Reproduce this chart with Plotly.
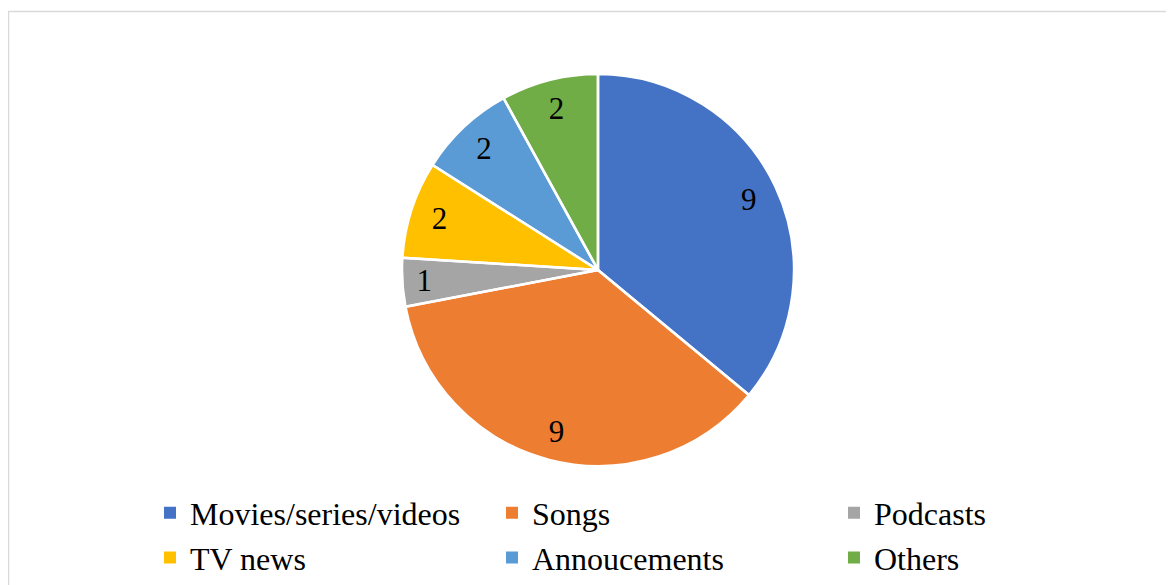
import plotly.graph_objects as go

labels = ["Movies/series/videos", "Songs", "Podcasts", "TV news", "Annoucements", "Others"]
values = [9, 9, 1, 2, 2, 2]
colors = ["#4472C4", "#ED7D31", "#A5A5A5", "#FFC000", "#5B9BD5", "#70AD47"]

W, H = 1174, 585
dom_x = [394 / W, 786 / W]
dom_y = [1 - 458 / H, 1 - 66 / H]
clear = ["rgba(0,0,0,0)"] * len(values)

fig = go.Figure()
# coloured slices (also feeds the legend)
fig.add_trace(go.Pie(
    labels=labels, values=values, sort=False, direction="clockwise", rotation=0,
    marker=dict(colors=colors, line=dict(width=0)),
    textinfo="none", domain=dict(x=dom_x, y=dom_y), hoverinfo="label+value",
))
# white slice separators
fig.add_trace(go.Pie(
    labels=labels, values=values, sort=False, direction="clockwise", rotation=0,
    showlegend=False,
    marker=dict(colors=clear, line=dict(color="white", width=2.5)),
    textinfo="none", domain=dict(x=dom_x, y=dom_y), hoverinfo="skip",
))
# data labels placed in the outer ring
fig.add_trace(go.Pie(
    labels=labels, values=values, sort=False, direction="clockwise", rotation=0,
    hole=0.7, showlegend=False,
    marker=dict(colors=clear, line=dict(width=0)),
    textinfo="value", textposition="inside", insidetextorientation="horizontal",
    insidetextfont=dict(family="Liberation Serif", size=31, color="black"),
    domain=dict(x=dom_x, y=dom_y), hoverinfo="skip",
))

fig.add_shape(type="rect", xref="paper", yref="paper",
              x0=0.5 / W, x1=1.02, y0=-0.02, y1=1 - 3.5 / H,
              line=dict(color="#d9d9d9", width=1.5), fillcolor="rgba(0,0,0,0)", layer="below")

fig.update_layout(
    width=W, height=H,
    margin=dict(l=0, r=0, t=0, b=0, autoexpand=False),
    paper_bgcolor="white", plot_bgcolor="white",
    showlegend=True,
    legend=dict(
        orientation="h", x=142 / W, xanchor="left", y=1 - 477.5 / H, yanchor="top",
        font=dict(family="Liberation Serif", size=32, color="black"),
        entrywidth=297, entrywidthmode="pixels", traceorder="normal",
        bgcolor="rgba(0,0,0,0)",
    ),
)

fig.write_html("out.html")
